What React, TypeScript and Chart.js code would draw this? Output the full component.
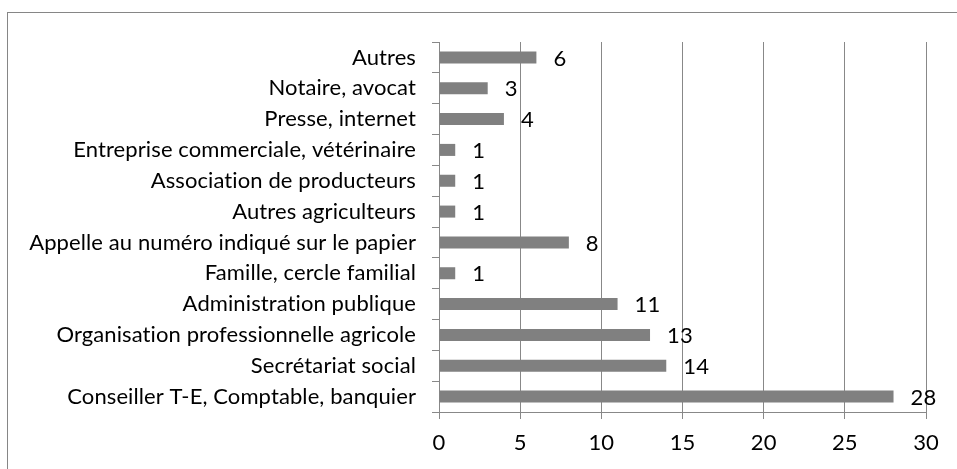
import React, { useEffect, useRef } from "react";
import { Chart, registerables } from "chart.js";

Chart.register(...registerables);

const categories = [
  "Autres",
  "Notaire, avocat",
  "Presse, internet",
  "Entreprise commerciale, vétérinaire",
  "Association de producteurs",
  "Autres agriculteurs",
  "Appelle au numéro indiqué sur le papier",
  "Famille, cercle familial",
  "Administration publique",
  "Organisation professionnelle agricole",
  "Secrétariat social",
  "Conseiller T-E, Comptable, banquier",
];
const values = [6, 3, 4, 1, 1, 1, 8, 1, 11, 13, 14, 28];
const xMin = 0;
const xMax = 30;
const xStep = 5;

const FONT = "Lato, 'Open Sans', sans-serif";
const FONT_SIZE = 22;

const noLigatures = {
  id: "noLigatures",
  beforeDraw(chart: any) {
    const ctx: any = chart.ctx;
    if ("letterSpacing" in ctx) ctx.letterSpacing = "0.1px";
  },
};

const valueLabels = {
  id: "valueLabels",
  afterDatasetsDraw(chart: any) {
    const ctx = chart.ctx;
    const meta = chart.getDatasetMeta(0);
    ctx.save();
    ctx.font = `${FONT_SIZE}px ${FONT}`;
    ctx.fillStyle = "#000";
    ctx.textAlign = "left";
    ctx.textBaseline = "middle";
    meta.data.forEach((bar: any, i: number) => {
      ctx.fillText(String(values[i]), bar.x + 17, bar.y + 1);
    });
    ctx.restore();
  },
};

export default function App() {
  const ref = useRef<HTMLCanvasElement>(null);
  useEffect(() => {
    if (!ref.current) return;
    const chart = new Chart(ref.current, {
      type: "bar",
      data: {
        labels: categories,
        datasets: [
          {
            data: values,
            backgroundColor: "#808080",
            borderWidth: 0,
            barPercentage: 0.75,
            categoryPercentage: 0.52,
          },
        ],
      },
      options: {
        indexAxis: "y",
        responsive: false,
        animation: false,
        layout: { padding: { top: 42, right: 31, left: 0, bottom: 0 } },
        plugins: { legend: { display: false }, tooltip: { enabled: false } },
        scales: {
          x: {
            min: xMin,
            max: xMax,
            ticks: {
              stepSize: xStep,
              color: "#000",
              font: { family: FONT, size: FONT_SIZE },
              padding: 11,
            },
            grid: {
              color: "#888888",
              lineWidth: 1,
              tickLength: 7,
              drawTicks: true,
            },
            border: { color: "#888888", width: 1 },
            afterFit: (s: any) => {
              s.height = 57;
            },
          },
          y: {
            ticks: {
              color: "#000",
              font: { family: FONT, size: FONT_SIZE },
              padding: 16,
              autoSkip: false,
            },
            grid: {
              color: "#888888",
              drawOnChartArea: false,
              tickLength: 7,
              offset: true,
            },
            border: { color: "#888888", width: 1 },
            afterFit: (s: any) => {
              s.width = 439;
            },
          },
        },
      },
      plugins: [noLigatures, valueLabels],
    });
    return () => chart.destroy();
  }, []);
  return (
    <div style={{ position: "fixed", left: 0, top: 0, width: 957, height: 469, background: "#fff" }}>
      <div
        style={{
          position: "absolute",
          left: 7,
          top: 12,
          width: 960,
          height: 470,
          borderLeft: "1.5px solid #868686",
          borderTop: "1.5px solid #868686",
        }}
      />
      <canvas ref={ref} width={957} height={469} style={{ position: "absolute", left: 0, top: 0 }} />
    </div>
  );
}
